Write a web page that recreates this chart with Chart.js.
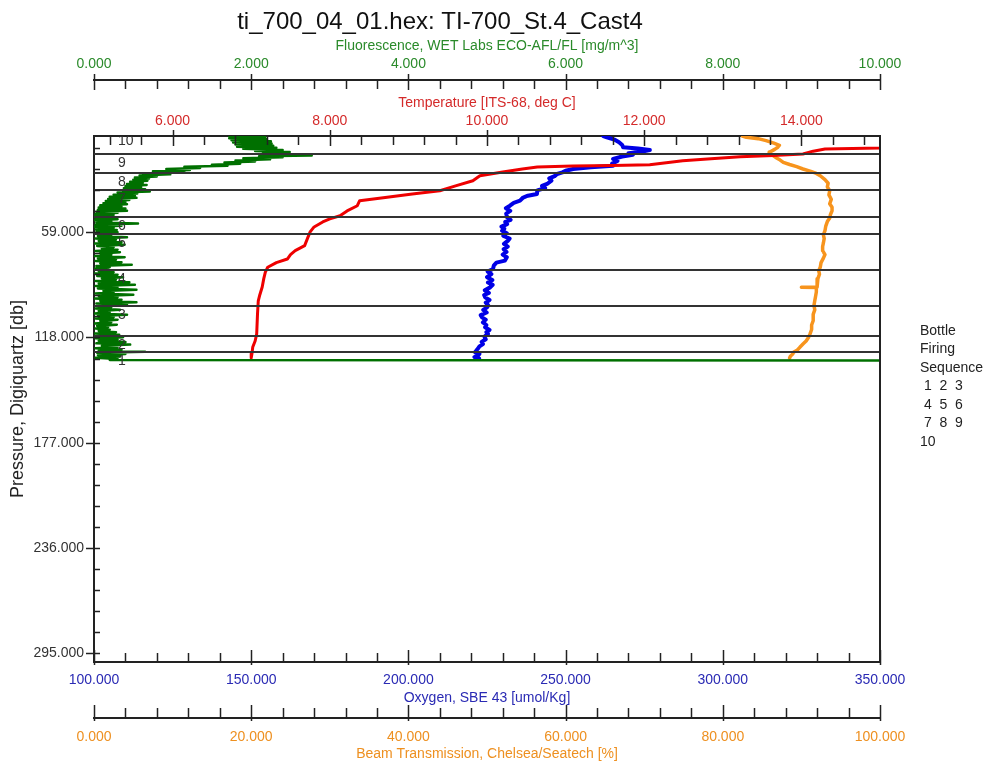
<!DOCTYPE html>
<html>
<head>
<meta charset="utf-8">
<title>ti_700_04_01.hex</title>
<script src="https://cdn.jsdelivr.net/npm/chart.js@4.4.1/dist/chart.umd.min.js"></script>
<style>
  html, body { margin: 0; padding: 0; background: #fff; }
  #wrap { width: 987px; height: 763px; }
</style>
</head>
<body>
<div id="wrap"><canvas id="ctdChart" width="987" height="763"></canvas></div>
<script>
const chartTitle = "ti_700_04_01.hex: TI-700_St.4_Cast4";

// axis tick labels (major ticks)
const fluorTicks = [0, 2, 4, 6, 8, 10];
const tempTicks = [6, 8, 10, 12, 14];
const oxyTicks = [100, 150, 200, 250, 300, 350];
const beamTicks = [0, 20, 40, 60, 80, 100];
const presTicks = [59, 118, 177, 236, 295];

// bottle firing positions (pressure, db)
const bottleNums = [1, 2, 3, 4, 5, 6, 7, 8, 9, 10];
const bottlePres = [126.3, 117.0, 100.2, 80.2, 60.0, 50.3, 35.3, 25.6, 15.1, 2.5];
const legendLines = ["Bottle", "Firing", "Sequence", " 1  2  3", " 4  5  6", " 7  8  9", "10"];

// Temperature [ITS-68, deg C]
const tempPres = [5.0, 8.0, 10.5, 11.7, 12.3, 13.5, 15.1, 16.0, 16.7, 17.8, 18.9, 20.0, 21.1, 21.5, 21.8, 22.4, 23.5, 25.2, 27.3, 30.1, 33.0, 35.7, 37.5, 39.4, 41.3, 44.1, 47.0, 49.7, 51.5, 53.2, 56.0, 58.8, 62.0, 66.5, 69.3, 71.5, 74.0, 76.0, 78.6, 81.3, 85.0, 89.7, 94.0, 97.4, 105.0, 116.0, 120.0, 123.3, 127.0, 129.5];
const tempVals = [15.8, 15.6, 15.3, 15.0, 14.30, 14.15, 14.02, 13.64, 13.22, 12.85, 12.49, 12.28, 12.07, 11.60, 11.09, 10.64, 10.45, 10.20, 9.91, 9.82, 9.60, 9.40, 9.05, 8.73, 8.38, 8.35, 8.22, 8.13, 8.00, 7.91, 7.80, 7.75, 7.72, 7.68, 7.56, 7.50, 7.46, 7.32, 7.21, 7.18, 7.16, 7.14, 7.11, 7.09, 7.08, 7.07, 7.05, 7.02, 7.01, 7.00];

// Fluorescence, WET Labs ECO-AFL/FL [mg/m^3]  (noisy trace, read as alternating edges)
const fluorPres = [5.0, 5.6, 6.2, 6.8, 7.4, 8.0, 8.6, 9.2, 9.8, 10.4, 11.0, 11.6, 12.2, 12.8, 13.4, 14.0, 14.6, 15.2, 15.8, 16.0, 16.3, 16.9, 17.5, 18.1, 18.7, 19.3, 19.9, 20.5, 21.1, 21.7, 22.3, 22.9, 23.5, 24.1, 24.7, 25.3, 25.9, 26.5, 27.1, 27.7, 28.3, 28.9, 29.5, 30.1, 30.7, 31.3, 31.9, 32.5, 33.1, 33.7, 34.3, 34.9, 35.5, 36.1, 36.7, 37.3, 37.9, 38.5, 39.1, 39.7, 40.3, 40.9, 41.5, 42.1, 42.7, 43.3, 43.9, 44.5, 45.1, 45.7, 46.3, 46.9, 47.5, 48.1, 48.7, 49.3, 49.9, 50.5, 51.1, 51.7, 52.3, 52.9, 53.5, 54.1, 54.7, 55.3, 55.9, 56.5, 57.1, 57.7,
  58.3, 59.0, 59.7, 60.4, 61.1, 61.8, 62.5, 63.2, 63.9, 64.6, 65.3, 66.0, 66.7, 67.4, 68.1, 68.8, 69.5, 70.2, 70.9, 71.6, 72.3, 73.0, 73.7, 74.4, 75.1, 75.8, 76.5, 77.2, 77.9, 78.6, 79.3, 80.0, 80.7, 81.4, 82.1, 82.8, 83.5, 84.2, 84.9, 85.6, 86.3, 87.0, 87.7, 88.4, 89.1, 89.8, 90.5, 91.2, 91.9, 92.6, 93.3, 94.0, 94.7, 95.4, 96.1, 96.8, 97.5, 98.2, 98.9, 99.6, 100.3, 101.0, 101.7, 102.4, 103.1, 103.8, 104.5, 105.2, 105.9, 106.6, 107.3, 108.0, 108.7, 109.4, 110.1, 110.8, 111.5, 112.2, 112.9, 113.6, 114.3, 115.0, 115.7, 116.4, 117.1, 117.8, 118.5, 119.2, 119.9, 120.6, 121.3, 122.0, 122.7, 123.4, 124.1, 124.8, 125.5, 126.0, 126.6, 127.3, 128.0, 128.7, 129.4, 130.1, 130.6, 130.9];
const fluorVals = [1.72, 2.18, 1.72, 2.20, 1.75, 2.25, 1.77, 2.26, 1.80, 2.28, 1.82, 2.32, 1.90, 2.40, 2.05, 2.49, 2.15, 2.55, 2.20, 2.77, 2.10, 2.40, 1.90, 2.24, 1.80, 2.05, 1.66, 1.86, 1.50, 1.70, 1.15, 1.35, 0.92, 1.22, 0.75, 1.15, 0.62, 0.97, 0.58, 0.80, 0.52, 0.70, 0.50, 0.68, 0.46, 0.62, 0.42, 0.67, 0.40, 0.60, 0.38, 0.65, 0.37, 0.71, 0.30, 0.55, 0.25, 0.52, 0.20, 0.54, 0.18, 0.45, 0.15, 0.40, 0.12, 0.42, 0.08, 0.35, 0.06, 0.40, 0.05, 0.42, 0.03, 0.30, 0.02, 0.25, 0.00, 0.20, 0.02, 0.30, 0.01, 0.22, 0.03, 0.56, 0.02, 0.35, 0.00, 0.25, 0.02, 0.29,
  0.03, 0.30, 0.01, 0.22, 0.05, 0.42, 0.02, 0.28, 0.06, 0.35, 0.01, 0.39, 0.04, 0.25, 0.10, 0.30, 0.02, 0.33, 0.08, 0.22, 0.01, 0.39, 0.05, 0.28, 0.02, 0.35, 0.08, 0.48, 0.03, 0.20, 0.01, 0.18, 0.06, 0.25, 0.01, 0.30, 0.04, 0.37, 0.10, 0.28, 0.02, 0.45, 0.06, 0.52, 0.02, 0.30, 0.05, 0.54, 0.12, 0.25, 0.02, 0.50, 0.06, 0.30, 0.01, 0.35, 0.08, 0.54, 0.03, 0.42, 0.10, 0.22, 0.02, 0.33, 0.06, 0.20, 0.01, 0.42, 0.05, 0.25, 0.02, 0.30, 0.08, 0.22, 0.01, 0.29, 0.04, 0.18, 0.02, 0.20, 0.06, 0.28, 0.01, 0.32, 0.04, 0.37, 0.02, 0.30, 0.06, 0.40, 0.03, 0.46, 0.10, 0.30, 0.02, 0.35, 0.06, 0.65, 0.04, 0.40, 0.05, 0.33, 0.02, 0.30, 0.20, 12.0];

// Oxygen, SBE 43 [umol/Kg]
const oxyPres = [5.0, 5.7, 7.0, 8.5, 10.0, 11.3, 12.0, 12.9, 13.8, 14.6, 15.5, 16.5, 17.9, 19.0, 20.5, 21.7, 22.5, 23.5, 24.5, 25.4, 26.3, 27.5, 28.8, 30.0, 31.9, 33.0, 34.2, 35.5, 37.5, 38.5, 39.5, 41.3, 42.5, 44.1, 45.5, 47.0, 48.5, 50.6, 52.0, 53.2, 54.4, 55.8, 57.0, 58.1, 59.5, 61.0, 62.5, 63.7, 65.5, 67.0, 68.5, 70.0, 71.5, 73.0, 74.9, 76.0, 77.5, 79.6, 81.0, 82.5, 84.2, 85.8, 87.2, 88.5, 89.9, 91.5, 93.0, 94.2, 95.5, 97.0, 98.5, 100.0, 101.1, 102.5, 104.0, 105.5, 106.7, 108.0, 109.5, 111.0, 112.3, 113.8, 115.0, 116.0, 117.5, 119.0, 120.5, 121.7, 123.0, 124.5, 126.3, 127.2, 128.2, 129.0, 129.8];
const oxyVals = [262.0, 263.1, 265.5, 267.0, 268.0, 268.3, 273.0, 276.8, 274.0, 270.0, 271.4, 268.0, 265.1, 266.5, 264.8, 265.1, 258.0, 252.4, 250.0, 249.0, 247.3, 246.5, 244.8, 245.5, 244.1, 242.5, 243.5, 241.0, 240.9, 238.0, 236.5, 235.5, 233.5, 232.3, 231.0, 232.4, 231.1, 231.4, 232.5, 230.8, 231.4, 229.6, 230.5, 229.8, 231.3, 230.2, 232.2, 231.7, 230.4, 231.6, 230.3, 231.2, 230.0, 231.3, 230.7, 228.0, 227.2, 226.9, 225.2, 226.4, 225.0, 226.7, 225.3, 226.8, 226.0, 224.3, 225.6, 224.1, 224.4, 225.8, 224.6, 225.4, 225.0, 223.8, 224.9, 223.0, 223.4, 224.6, 223.7, 224.8, 224.4, 225.8, 224.8, 225.3, 224.2, 224.6, 223.3, 223.7, 222.6, 222.0, 221.2, 222.6, 222.1, 221.0, 222.5];

// Beam Transmission, Chelsea/Seatech [%]
const beamPres = [5.0, 5.7, 6.5, 7.6, 9.0, 10.2, 11.3, 12.5, 14.0, 15.0, 16.0, 17.5, 18.5, 19.8, 21.0, 22.2, 23.5, 24.8, 26.0, 27.3, 29.5, 31.5, 33.5, 35.7, 38.0, 40.5, 43.0, 45.0, 46.9, 49.0, 51.0, 53.0, 55.5, 58.1, 60.5, 62.5, 65.0, 67.0, 69.3, 71.5, 73.5, 76.0, 78.6, 80.5, 82.5, 85.0, 87.8, 89.7, 89.8, 89.9, 92.5, 95.0, 97.4, 100.0, 102.5, 105.0, 108.6, 111.0, 113.5, 116.0, 118.0, 120.0, 121.7, 123.5, 125.0, 126.3, 127.3, 128.5, 129.5];
const beamVals = [82.5, 83.0, 84.5, 85.5, 86.5, 87.2, 87.0, 86.6, 86.0, 85.9, 86.4, 86.9, 87.3, 87.7, 88.5, 89.4, 90.2, 91.2, 91.9, 92.4, 93.0, 93.4, 93.3, 93.6, 93.5, 93.8, 93.6, 93.9, 93.9, 93.7, 93.6, 93.3, 93.1, 93.0, 92.8, 92.9, 92.8, 92.7, 92.7, 93.0, 92.8, 92.5, 92.4, 92.2, 92.3, 92.1, 92.0, 92.0, 90.0, 91.9, 91.9, 91.8, 91.7, 91.6, 91.7, 91.5, 91.5, 91.3, 91.3, 91.1, 90.9, 90.6, 90.2, 89.8, 89.5, 89.0, 88.9, 88.6, 88.5];

const FONT = '"Liberation Sans", Arial, sans-serif';
const GREEN_TXT = "#2a8a2a", RED_TXT = "#d42a2a", BLUE_TXT = "#2a2ab4", ORANGE_TXT = "#ee9020";
const axisFont = { family: FONT, size: 14 };

const toPoints = (pres, vals) => vals.map((v, i) => ({ x: v, y: pres[i] }));

// tick marks drawn on the library scales (minor step, offsets from axis line)
const tickSpecs = [
  { id: "xF", step: 0.4, edge: "bottom", minor: [0, 9], major: [-6, 10] },
  { id: "xT", step: 0.4, edge: "bottom", minor: [0, 9], major: [-6, 10] },
  { id: "xO", step: 10, edge: "top", minor: [-9, 0], major: [-12, 3] },
  { id: "xB", step: 4, edge: "top", minor: [-10, 0], major: [-13, 3] },
  { id: "y", step: 11.8, edge: "right", minor: [0, 6], major: [-8, 6] }
];

const ctdDecor = {
  id: "ctdDecor",
  afterDatasetsDraw(chart) {
    const { ctx, chartArea: a, scales } = chart;
    ctx.save();
    ctx.beginPath();
    ctx.rect(a.left, a.top, a.right - a.left, a.bottom - a.top);
    ctx.clip();
    ctx.strokeStyle = "#333";
    ctx.lineWidth = 2;
    ctx.fillStyle = "#333";
    ctx.font = "14px " + FONT;
    ctx.textBaseline = "middle";
    ctx.textAlign = "left";
    bottlePres.forEach((p, i) => {
      const y = Math.round(scales.y.getPixelForValue(p));
      ctx.beginPath();
      ctx.moveTo(a.left, y);
      ctx.lineTo(a.right, y);
      ctx.stroke();
      ctx.fillText(String(bottleNums[i]), a.left + 24, y + 9);
    });
    ctx.restore();
  },
  afterDraw(chart) {
    const { ctx, chartArea: a, scales } = chart;
    ctx.save();
    ctx.strokeStyle = "#222";
    ctx.lineWidth = 1.5;
    tickSpecs.forEach(spec => {
      const s = scales[spec.id];
      const majors = s.ticks.map(t => t.value);
      const base = s[spec.edge];
      const k0 = Math.ceil(s.min / spec.step - 1e-6);
      const k1 = Math.floor(s.max / spec.step + 1e-6);
      for (let k = k0; k <= k1; k++) {
        const v = k * spec.step;
        const isMajor = majors.some(m => Math.abs(m - v) < 1e-6);
        const [o1, o2] = isMajor ? spec.major : spec.minor;
        const pix = Math.round(s.getPixelForValue(v)) + 0.5;
        ctx.beginPath();
        if (spec.edge === "right") {
          ctx.moveTo(base + o1, pix);
          ctx.lineTo(base + o2, pix);
        } else {
          ctx.moveTo(pix, base + o1);
          ctx.lineTo(pix, base + o2);
        }
        ctx.stroke();
      }
    });
    // right edge of the plot frame
    ctx.lineWidth = 2;
    ctx.beginPath();
    ctx.moveTo(a.right, a.top);
    ctx.lineTo(a.right, a.bottom);
    ctx.stroke();

    // bottle firing legend
    ctx.fillStyle = "#222";
    ctx.font = "14px " + FONT;
    ctx.textBaseline = "middle";
    ctx.textAlign = "left";
    legendLines.forEach((txt, i) => {
      ctx.fillText(txt, 920, 331 + i * 18.5);
    });
    ctx.restore();
  }
};

function xScale(opts) {
  return {
    type: "linear",
    position: opts.position,
    weight: opts.weight,
    min: opts.min,
    max: opts.max,
    afterBuildTicks: ax => { ax.ticks = opts.ticks.map(v => ({ value: v })); },
    afterFit: ax => { ax.height = opts.height; },
    ticks: {
      color: opts.color,
      font: axisFont,
      padding: opts.pad,
      maxRotation: 0,
      autoSkip: false,
      callback: v => Number(v).toFixed(3)
    },
    grid: { drawOnChartArea: false, drawTicks: false },
    border: { color: "#222", width: 2 },
    title: { display: true, text: opts.title, color: opts.color, font: axisFont, padding: opts.titlePad }
  };
}

new Chart(document.getElementById("ctdChart"), {
  type: "scatter",
  data: {
    datasets: [
      { label: "Fluorescence", data: toPoints(fluorPres, fluorVals), xAxisID: "xF", yAxisID: "y", borderColor: "#007000", borderWidth: 2.5 },
      { label: "Temperature", data: toPoints(tempPres, tempVals), xAxisID: "xT", yAxisID: "y", borderColor: "#ee0000", borderWidth: 3 },
      { label: "Oxygen", data: toPoints(oxyPres, oxyVals), xAxisID: "xO", yAxisID: "y", borderColor: "#0000e6", borderWidth: 4 },
      { label: "Beam Transmission", data: toPoints(beamPres, beamVals), xAxisID: "xB", yAxisID: "y", borderColor: "#f7941d", borderWidth: 3.5 }
    ].map(ds => Object.assign(ds, {
      showLine: true, pointRadius: 0, pointHoverRadius: 0, tension: 0,
      borderJoinStyle: "round", borderCapStyle: "round"
    }))
  },
  options: {
    responsive: false,
    animation: false,
    devicePixelRatio: 1,
    layout: { padding: { left: 0, right: 107, top: 0, bottom: 0 } },
    plugins: {
      legend: { display: false },
      tooltip: { enabled: false },
      title: {
        display: true, text: chartTitle, color: "#111",
        font: { family: FONT, size: 24, weight: "normal" },
        padding: { top: 8, bottom: 0 }
      }
    },
    scales: {
      xF: xScale({ position: "top", weight: 2, min: 0, max: 10, ticks: fluorTicks, height: 43.2, pad: 7,
        color: GREEN_TXT, title: "Fluorescence, WET Labs ECO-AFL/FL [mg/m^3]", titlePad: { top: 1, bottom: 0 } }),
      xT: xScale({ position: "top", weight: 1, min: 5, max: 15, ticks: tempTicks, height: 56, pad: 6,
        color: RED_TXT, title: "Temperature [ITS-68, deg C]", titlePad: { top: 15, bottom: 0 } }),
      xO: xScale({ position: "bottom", weight: 1, min: 100, max: 350, ticks: oxyTicks, height: 56, pad: 10,
        color: BLUE_TXT, title: "Oxygen, SBE 43 [umol/Kg]", titlePad: { top: 0, bottom: 11 } }),
      xB: xScale({ position: "bottom", weight: 2, min: 0, max: 100, ticks: beamTicks, height: 45, pad: 11,
        color: ORANGE_TXT, title: "Beam Transmission, Chelsea/Seatech [%]", titlePad: { top: 0, bottom: 0 } }),
      y: {
        type: "linear",
        position: "left",
        reverse: true,
        min: 5,
        max: 300,
        afterBuildTicks: ax => { ax.ticks = presTicks.map(v => ({ value: v })); },
        afterFit: ax => { ax.width = 94; },
        ticks: { color: "#333", font: axisFont, padding: 10, autoSkip: false, callback: v => Number(v).toFixed(3) },
        grid: { drawOnChartArea: false, drawTicks: false },
        border: { color: "#222", width: 2 },
        title: { display: true, text: "Pressure, Digiquartz [db]", color: "#222", font: { family: FONT, size: 18 }, padding: { top: 7, bottom: 0 } }
      }
    }
  },
  plugins: [ctdDecor]
});
</script>
</body>
</html>
